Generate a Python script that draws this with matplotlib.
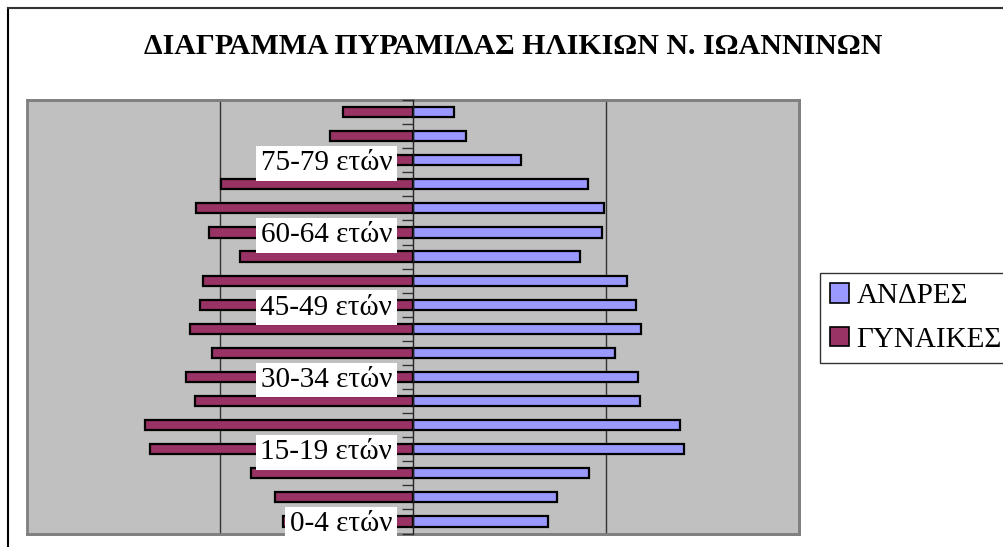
import matplotlib
matplotlib.use("Agg")
import matplotlib.pyplot as plt
import numpy as np
from matplotlib.lines import Line2D
from matplotlib.patches import Rectangle

age_groups = ["0-4 ετών", "5-9 ετών", "10-14 ετών", "15-19 ετών", "20-24 ετών",
              "25-29 ετών", "30-34 ετών", "35-39 ετών", "40-44 ετών", "45-49 ετών",
              "50-54 ετών", "55-59 ετών", "60-64 ετών", "65-69 ετών", "70-74 ετών",
              "75-79 ετών", "80-84 ετών", "85+ ετών"]
men = [3495, 3720, 4565, 7015, 6905, 5875, 5825, 5230, 5905, 5780,
       5555, 4330, 4885, 4945, 4540, 2800, 1380, 1050]
women = [3375, 3570, 4190, 6825, 6940, 5645, 5875, 5220, 5765, 5530,
         5435, 4470, 5280, 5615, 4985, 3600, 2155, 1820]

title = "ΔΙΑΓΡΑΜΜΑ ΠΥΡΑΜΙΔΑΣ ΗΛΙΚΙΩΝ Ν. ΙΩΑΝΝΙΝΩΝ"
series_names = ["ΑΝΔΡΕΣ", "ΓΥΝΑΙΚΕΣ"]

men_color = "#9999FF"
women_color = "#993366"

plt.rcParams['font.family'] = ['Liberation Serif', 'DejaVu Serif']

fig = plt.figure(figsize=(10.04, 5.47), dpi=100)
ax = fig.add_axes([27/1004, 1-533.5/547, (799-27)/1004, (533.5-100)/547])
ax.set_facecolor("#C0C0C0")

y = np.arange(len(age_groups))
h = 0.42
ax.barh(y, men, height=h, color=men_color, edgecolor="black", linewidth=1.6, zorder=3)
ax.barh(y, [-w for w in women], height=h, color=women_color, edgecolor="black", linewidth=1.6, zorder=3)

ax.set_xlim(-10000, 10000)
ax.set_ylim(-0.5, len(age_groups) - 0.5)

for xv in (-5000, 5000):
    ax.axvline(xv, color="#333333", linewidth=1.0, zorder=1)

for s in ("top", "bottom", "right"):
    ax.spines[s].set_color("#808080")
    ax.spines[s].set_linewidth(2)
ax.spines["left"].set_position(("data", 0))
ax.spines["left"].set_color("#222222")
ax.spines["left"].set_linewidth(1.0)
ax.spines["left"].set_zorder(4)
ax.add_patch(Rectangle((0, 0), 1, 1, transform=ax.transAxes, fill=False,
                       edgecolor="#808080", linewidth=2, zorder=0.5, clip_on=False))

ax.set_xticks([])
major = y[::3]
ax.set_yticks(major)
ax.set_yticklabels([age_groups[i] for i in major], fontsize=21)
ax.set_yticks(np.arange(-0.5, len(age_groups), 1.0), minor=True)
ax.tick_params(axis="y", which="major", length=0, pad=15)
ax.tick_params(axis="y", which="minor", length=8, direction="out", color="#333333", width=1)
ax.yaxis.set_zorder(6)
for lbl in ax.get_yticklabels():
    lbl.set_bbox(dict(facecolor="white", edgecolor="none", boxstyle="square,pad=0.15"))

fig.text(0.511, 1-47/547, title, ha="center", va="center", fontsize=21.5, fontweight="bold")

handles = [Rectangle((0, 0), 1, 1, facecolor=men_color, edgecolor="black", linewidth=1.2),
           Rectangle((0, 0), 1, 1, facecolor=women_color, edgecolor="black", linewidth=1.2)]
leg = fig.legend(handles, series_names, loc="upper left", bbox_to_anchor=(820/1004, 1-273/547),
                 fontsize=21, frameon=True, fancybox=False, edgecolor="black",
                 handlelength=0.65, handleheight=0.65, handletextpad=0.25, borderpad=0.35,
                 labelspacing=0.6, borderaxespad=0)
leg.get_frame().set_linewidth(1.0)

fig.add_artist(Line2D([8/1004, 8/1004], [0, 1-7.5/547], transform=fig.transFigure, color="black", linewidth=1.5))
fig.add_artist(Line2D([8/1004, 1], [1-7.5/547, 1-7.5/547], transform=fig.transFigure, color="#333333", linewidth=1.5))

fig.savefig("out.png", dpi=100)
